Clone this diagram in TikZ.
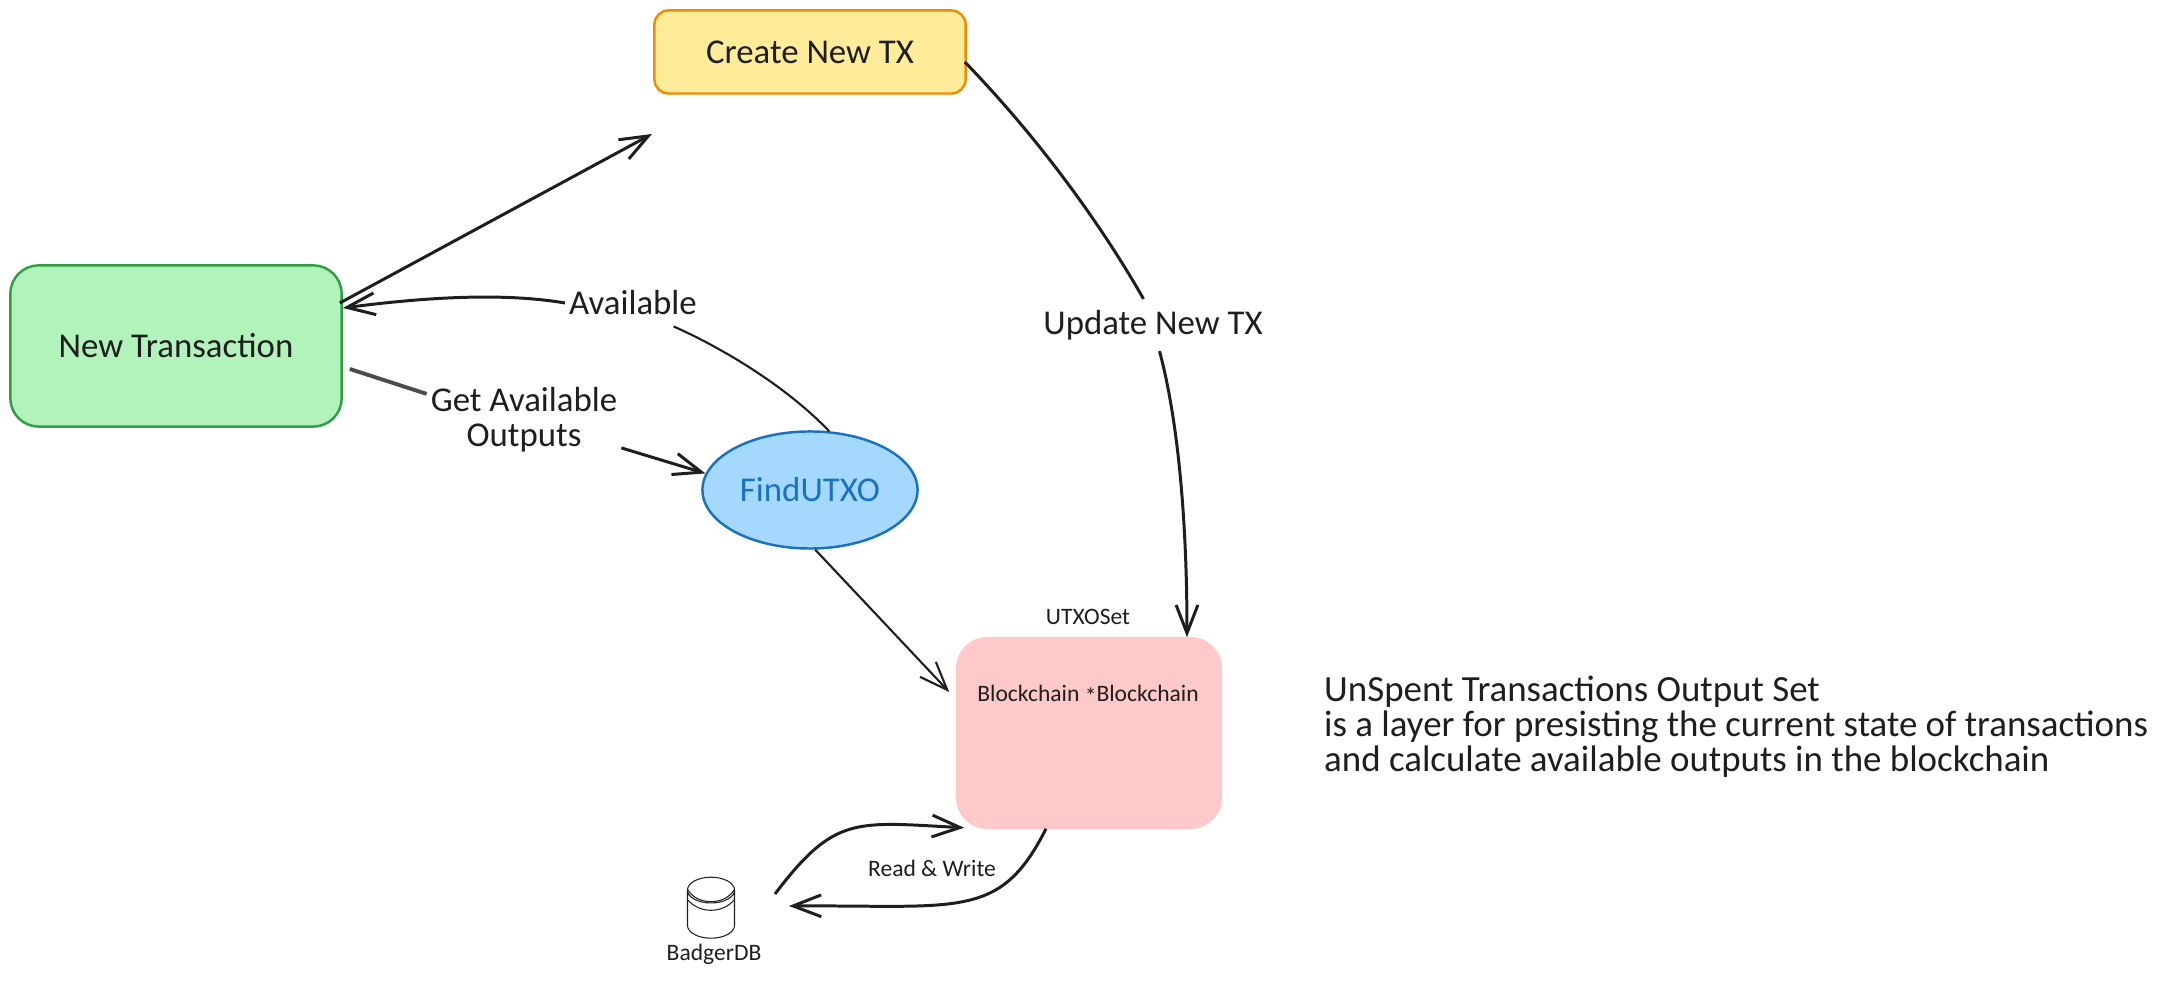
\documentclass[tikz,border=0pt]{standalone}
\usepackage{xcolor}
\usepackage{fontspec}
\setmainfont{Carlito}
\usetikzlibrary{arrows.meta,shapes.geometric}
\definecolor{inkc}{HTML}{1E1E1E}
\definecolor{yellowf}{HTML}{FFEC99}
\definecolor{yellowd}{HTML}{F08C00}
\definecolor{greenf}{HTML}{B2F2BB}
\definecolor{greend}{HTML}{2F9E44}
\definecolor{bluef}{HTML}{A5D8FF}
\definecolor{blued}{HTML}{1971C2}
\definecolor{pinkf}{HTML}{FFC9C9}
\tikzset{
    big text/.style={font=\fontsize{9.9}{9.96}\selectfont,text=inkc,inner xsep=1pt,inner ysep=3pt},
    note text/.style={font=\fontsize{10.5}{9.96}\selectfont,text=inkc,inner sep=1pt},
    small text/.style={font=\fontsize{6.7}{7}\selectfont,text=inkc,inner sep=1pt},
    RA1/.style ={rectangle,rounded corners=4pt,minimum width = 3.11cm, minimum height = .83cm, draw=yellowd, line width=.7pt, fill=yellowf},
    RA2/.style ={rectangle,rounded corners=8pt,minimum width = 3.31cm, minimum height = 1.61cm, draw=greend, line width=.7pt, fill=greenf},
    RA3/.style ={rectangle,rounded corners=9pt,minimum width = 2.66cm, minimum height = 1.92cm, fill=pinkf},
    CC1/.style ={ellipse,minimum width = 2.15cm, minimum height = 1.17cm, draw=blued, line width=.7pt, fill=bluef, text=blued},
    DB1/.style ={cylinder,shape border rotate=90,aspect=1.1,minimum width = .47cm, minimum height = .61cm, draw=inkc, line width=.3pt},
    AR1/.style ={-{Straight Barb[length=8pt,width=6.2pt]},draw=inkc,line width=.85pt},
    LN1/.style ={draw=inkc,line width=.85pt}
}
\begin{document}
\begin{tikzpicture}[x=.01cm,y=-.01cm]
        \useasboundingbox (0,0) rectangle (2174,989);
        \node[RA1,big text] (create) at (810,52) {Create New TX};
        \node[RA2,big text] (newtx) at (176,346) {New Transaction};
        \node[CC1,big text,text=blued] (find) at (810,490) {FindUTXO};
        \node[RA3] (pink) at (1089,733) {};
        \node[small text] (chain) at (1088,695) {Blockchain \raisebox{-.3ex}{*}Blockchain};
        \node[small text] (utxo) at (1088,617) {UTXOSet};
        \node[big text] (avail) at (633,303) {Available};
        \node[big text,align=center] (getout) at (524,420) {Get Available\\Outputs};
        \node[big text] (update) at (1153,325) {Update New TX};
        \node[small text] (rw) at (932,868) {Read \& Write};
        \node[DB1] (db) at (711,920) {};
        \node[small text] (badger) at (714,954) {BadgerDB};
        \node[note text,align=left,anchor=west] (note) at (1320,727) {UnSpent Transactions Output Set\\is a layer for presisting the current state of transactions\\and calculate available outputs in the blockchain};
        \coordinate (createend) at (652,134);
        \draw[AR1] ([shift={(-3,-43)}]newtx.east) -- (createend);
        \draw[LN1,line width=.6pt] (avail.-30) .. controls (720,347) and (785,385) .. (find.72);
        \draw[AR1] (avail.west) .. controls (500,292) and (420,298) .. ([shift={(0,-38)}]newtx.east);
        \draw[LN1,line width=1.1pt,draw=inkc!80] ([shift={(7,23)}]newtx.east) -- (getout.165);
        \draw[AR1] (getout.-16) -- (find.171);
        \draw[LN1] ([shift={(-2,10)}]create.east) .. controls (1050,150) and (1110,240) .. (update.110);
        \draw[AR1] (update.284) .. controls (1178,420) and (1187,520) .. ([shift={(98,1)}]pink.north);
        \draw[AR1,line width=.6pt] (find.-85) -- ([shift={(-6,-41)}]pink.west);
        \draw[AR1] ([shift={(64,-26)}]db.center) .. controls (835,815) and (855,822) .. ([shift={(9,-2)}]pink.south west);
        \draw[AR1] ([shift={(-43,-1)}]pink.south) .. controls (1000,920) and (960,905) .. ([shift={(78,-14)}]db.center);
        \draw[line width=.3pt,draw=inkc] ([shift={(-23,-30)}]db.center) to[bend right=60] ([shift={(23,-30)}]db.center);
        \draw[line width=.3pt,draw=inkc] ([shift={(-23,-20)}]db.center) to[bend right=50] ([shift={(23,-20)}]db.center);
    \end{tikzpicture}
\end{document}
